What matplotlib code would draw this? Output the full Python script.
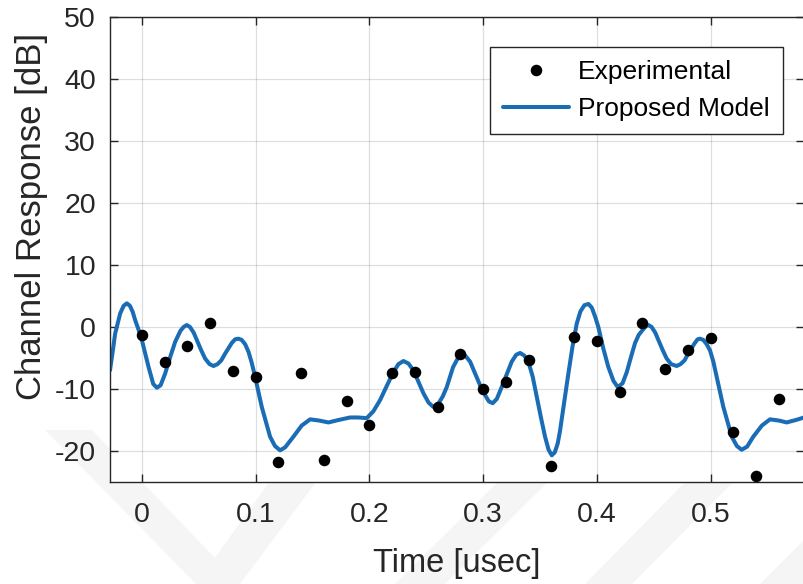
import matplotlib
matplotlib.use("Agg")
import matplotlib.pyplot as plt
from matplotlib.patches import Polygon

plt.rcParams['font.family'] = ['Liberation Sans', 'DejaVu Sans']
plt.rcParams['axes.unicode_minus'] = False

# Experimental samples
exp_t = [0.00, 0.02, 0.04, 0.06, 0.08, 0.10, 0.12, 0.14, 0.16, 0.18,
         0.20, 0.22, 0.24, 0.26, 0.28, 0.30, 0.32, 0.34, 0.36, 0.38,
         0.40, 0.42, 0.44, 0.46, 0.48, 0.50, 0.52, 0.54, 0.56]
exp_db = [-1.3, -5.6, -3.1, 0.7, -7.1, -8.1, -21.7, -7.4, -21.5, -11.9,
          -15.8, -7.5, -7.2, -12.9, -4.4, -10.0, -8.9, -5.3, -22.4, -1.7,
          -2.3, -10.5, 0.6, -6.8, -3.8, -1.8, -16.9, -24.0, -11.7]

# Proposed model curve
model_t = [-0.028, -0.0255, -0.0235, -0.019, -0.016, -0.0132, -0.0105, -0.008, -0.0059, -0.003,
           0.0, 0.0058, 0.0100, 0.0132, 0.0165, 0.0205, 0.025, 0.0293, 0.034, 0.0368,
           0.0395, 0.0422, 0.0455, 0.0483, 0.052, 0.0556, 0.0595, 0.063, 0.0665, 0.0698,
           0.0732, 0.079, 0.082, 0.0849, 0.0878, 0.0908, 0.0937, 0.0966, 0.0996, 0.1054,
           0.1127, 0.117, 0.1215, 0.126, 0.1332, 0.1405, 0.1479, 0.156, 0.164, 0.173,
           0.183, 0.190, 0.1977, 0.2035, 0.2094, 0.2153, 0.2211, 0.2255, 0.2299, 0.2343,
           0.2387, 0.243, 0.2475, 0.252, 0.2562, 0.2605, 0.2645, 0.268, 0.2735, 0.2782,
           0.2812, 0.2841, 0.2885, 0.2929, 0.2975, 0.3017, 0.3050, 0.3084, 0.312, 0.3163,
           0.3210, 0.3251, 0.3290, 0.3324, 0.3360, 0.3397, 0.3435, 0.3471, 0.3510, 0.3544,
           0.3575, 0.3603, 0.3630, 0.3655, 0.3676, 0.3712, 0.3749, 0.3785, 0.3822, 0.3855,
           0.3890, 0.3925, 0.3955, 0.3985, 0.4012, 0.4055, 0.41, 0.4145, 0.4183, 0.4225,
           0.4262, 0.4300, 0.4335, 0.4367, 0.4397, 0.4425, 0.4452, 0.448, 0.4512, 0.454,
           0.4577, 0.4613, 0.4652, 0.4701, 0.4735, 0.4770, 0.4803, 0.486, 0.4885, 0.4906,
           0.4935, 0.4965, 0.4994, 0.5023, 0.5053, 0.5111, 0.5185, 0.523, 0.5272, 0.532,
           0.5374, 0.545, 0.5521, 0.56, 0.5668, 0.575, 0.582]
model_db = [-7.0, -3.8, -1.1, 2.2, 3.4, 3.8, 3.4, 2.4, 1.1, -0.4,
            -2.1, -6.4, -9.2, -9.8, -9.4, -7.5, -4.8, -2.4, -0.6, 0.0,
            0.3, 0.0, -0.9, -2.1, -3.7, -5.1, -6.0, -6.3, -6.0, -5.4,
            -4.3, -2.6, -2.0, -1.9, -2.1, -2.8, -4.0, -5.8, -8.1, -12.9,
            -17.7, -19.2, -19.9, -19.4, -17.7, -15.9, -14.9, -15.1, -15.4, -15.0,
            -14.6, -14.6, -14.7, -13.6, -11.8, -9.5, -7.3, -6.0, -5.5, -5.9,
            -7.0, -8.8, -10.7, -12.2, -12.9, -12.4, -11.2, -9.7, -6.5, -4.9,
            -4.5, -4.6, -5.6, -7.5, -9.5, -11.0, -12.0, -12.3, -11.6, -9.7,
            -7.5, -5.6, -4.5, -4.2, -4.6, -5.6, -8.0, -11.3, -14.8, -17.7,
            -19.8, -20.7, -20.2, -18.8, -16.7, -12.2, -7.5, -3.2, 0.5, 2.5,
            3.5, 3.7, 3.1, 1.6, 0.0, -3.4, -6.45, -8.7, -9.7, -9.1,
            -7.3, -4.8, -2.6, -1.3, -0.6, 0.0, 0.3, 0.0, -0.9, -2.1,
            -3.7, -5.1, -6.0, -6.3, -6.0, -5.4, -4.3, -2.6, -2.0, -1.9,
            -2.1, -2.8, -3.8, -5.6, -8.1, -12.9, -17.7, -19.2, -19.8, -19.3,
            -17.7, -15.9, -14.9, -15.1, -15.4, -15.0, -14.6]

xticks = [0, 0.1, 0.2, 0.3, 0.4, 0.5]
xticklabels = ['0', '0.1', '0.2', '0.3', '0.4', '0.5']
yticks = [-20, -10, 0, 10, 20, 30, 40, 50]

W, H = 804, 584
fig = plt.figure(figsize=(W / 100, H / 100), dpi=100)

# faint background watermark (behind everything)
wm = '#f5f5f5'
for poly in [[(45, 430), (92, 430), (240, 584), (196, 584)],
             [(196, 584), (240, 584), (325, 470), (278, 470)],
             [(395, 584), (445, 584), (560, 470), (510, 470)],
             [(585, 584), (632, 584), (745, 470), (697, 470)],
             [(760, 584), (804, 584), (804, 540)]]:
    fig.patches.append(Polygon([(x / W, 1 - y / H) for x, y in poly], closed=True,
                               transform=fig.transFigure, facecolor=wm,
                               edgecolor='none', zorder=-5))

ax = fig.add_axes([110 / W, 1 - 482 / H, 1 - 110 / W, (482 - 16.7) / H])

ax.plot(exp_t, exp_db, linestyle='none', marker='o', color='black',
        markersize=7.3, label='Experimental', zorder=3)
ax.plot(model_t, model_db, color='#1A6DB5', linewidth=2.9,
        solid_joinstyle='round', solid_capstyle='round',
        label='Proposed Model', zorder=2)

ax.set_xlim(-0.028, 0.582)
ax.set_ylim(-25, 50)
ax.set_xticks(xticks)
ax.set_xticklabels(xticklabels)
ax.set_yticks(yticks)
ax.grid(True, color='black', alpha=0.13, linewidth=0.9)
ax.tick_params(direction='in', length=6, width=1, colors='#262626',
               top=True, right=True, labelsize=20.5)
ax.tick_params(axis='x', pad=14.5)
ax.tick_params(axis='y', pad=10)
for side in ['left', 'top', 'bottom']:
    ax.spines[side].set_color('#262626')
    ax.spines[side].set_linewidth(1.0)
ax.spines['right'].set_visible(False)

ax.set_xlabel('Time [usec]', fontsize=23.5, color='#262626', labelpad=14)
ax.set_ylabel('Channel Response [dB]', fontsize=25, color='#262626', labelpad=5)
ax.yaxis.label.set_y(0.57)

leg = ax.legend(loc='upper right', bbox_to_anchor=(783 / W, 1 - 46.7 / H),
                bbox_transform=fig.transFigure, fontsize=19, frameon=True,
                fancybox=False, edgecolor='#262626', framealpha=1,
                handlelength=2.5, handletextpad=0.35, borderpad=0.5,
                labelspacing=0.5, borderaxespad=0)
leg.get_frame().set_linewidth(1.0)

fig.savefig('out.png', dpi=100)
